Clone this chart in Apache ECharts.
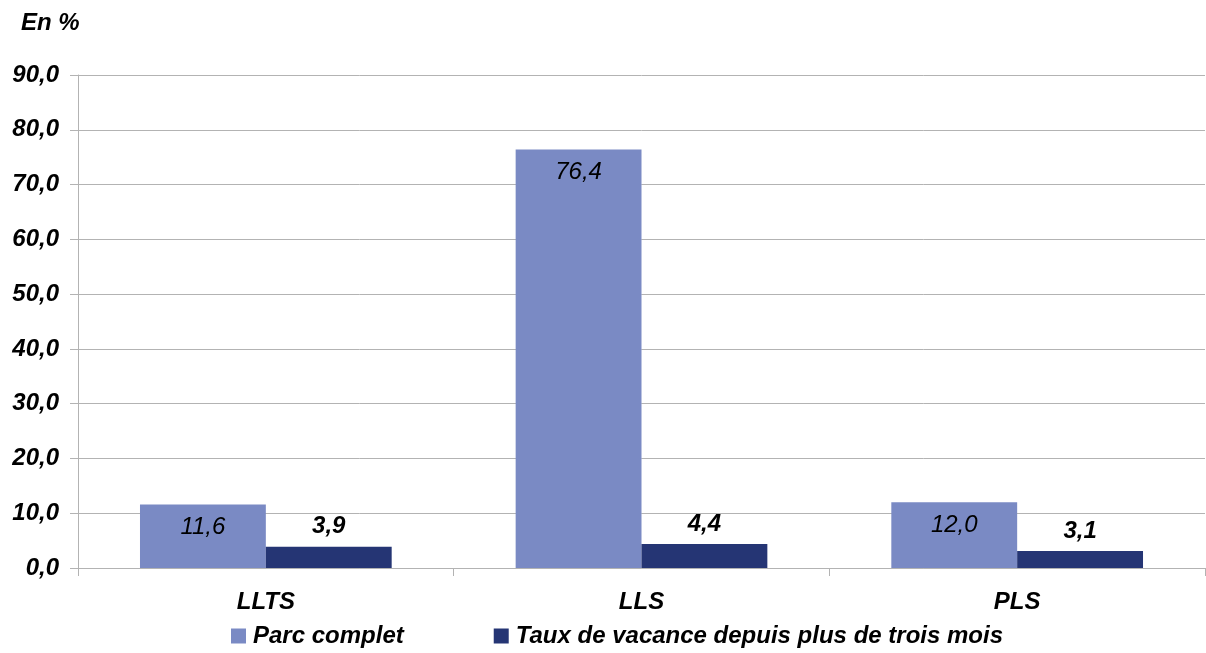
<!DOCTYPE html>
<html><head><meta charset="utf-8">
<script src="https://cdn.jsdelivr.net/npm/echarts@6/dist/echarts.min.js"></script>
<style>html,body{margin:0;padding:0;background:#fff}#c{width:1206px;height:653px}</style>
</head><body><div id="c"></div>
<script>
const categories = ['LLTS', 'LLS', 'PLS'];
const parcComplet = [11.6, 76.4, 12.0];
const tauxVacance = [3.9, 4.4, 3.1];
const seriesNames = ['Parc complet', 'Taux de vacance depuis plus de trois mois'];
const fmt = v => v.toFixed(1).replace('.', ',');
const F = '"Liberation Sans", Arial, sans-serif';
const FS = 24;
const chart = echarts.init(document.getElementById('c'));
chart.setOption({
  animation: false,
  textStyle: { fontFamily: F },
  title: { text: 'En %', left: 16, top: 6, textStyle: { fontFamily: F, fontSize: FS, fontStyle: 'italic', fontWeight: 'bold', color: '#000' } },
  grid: { left: 78, right: 1, top: 75, bottom: 85, containLabel: false },
  legend: {
    bottom: 0, left: 226, itemWidth: 15, itemHeight: 15, itemGap: 90,
    icon: 'rect',
    textStyle: { fontFamily: F, fontSize: FS, fontStyle: 'italic', fontWeight: 'bold', color: '#000', padding: [0, 0, 0, 2] },
    data: seriesNames
  },
  xAxis: {
    type: 'category', data: categories,
    axisLine: { lineStyle: { color: '#b3b3b3' } },
    axisTick: { show: true, length: 8, lineStyle: { color: '#b3b3b3' } },
    axisLabel: { fontFamily: F, fontSize: FS, fontStyle: 'italic', fontWeight: 'bold', color: '#000', margin: 22 }
  },
  yAxis: {
    type: 'value', min: 0, max: 90, interval: 10,
    axisLine: { show: true, lineStyle: { color: '#b3b3b3' } },
    axisTick: { show: true, length: 8, lineStyle: { color: '#b3b3b3' } },
    splitLine: { lineStyle: { color: '#b3b3b3' } },
    axisLabel: { formatter: v => fmt(v), fontFamily: F, fontSize: FS, fontStyle: 'italic', fontWeight: 'bold', color: '#000', margin: 19 }
  },
  series: [
    { name: seriesNames[0], type: 'bar', data: parcComplet, barGap: '0%', barCategoryGap: '33%',
      itemStyle: { color: '#7a8ac4' },
      label: { show: true, position: 'insideTop', distance: 11, formatter: p => fmt(p.value), fontFamily: F, fontSize: FS, fontStyle: 'italic', color: '#000' } },
    { name: seriesNames[1], type: 'bar', data: tauxVacance,
      itemStyle: { color: '#253574' },
      label: { show: true, position: 'top', distance: 8, formatter: p => fmt(p.value), fontFamily: F, fontSize: FS, fontStyle: 'italic', fontWeight: 'bold', color: '#000' } }
  ]
});
</script></body></html>
